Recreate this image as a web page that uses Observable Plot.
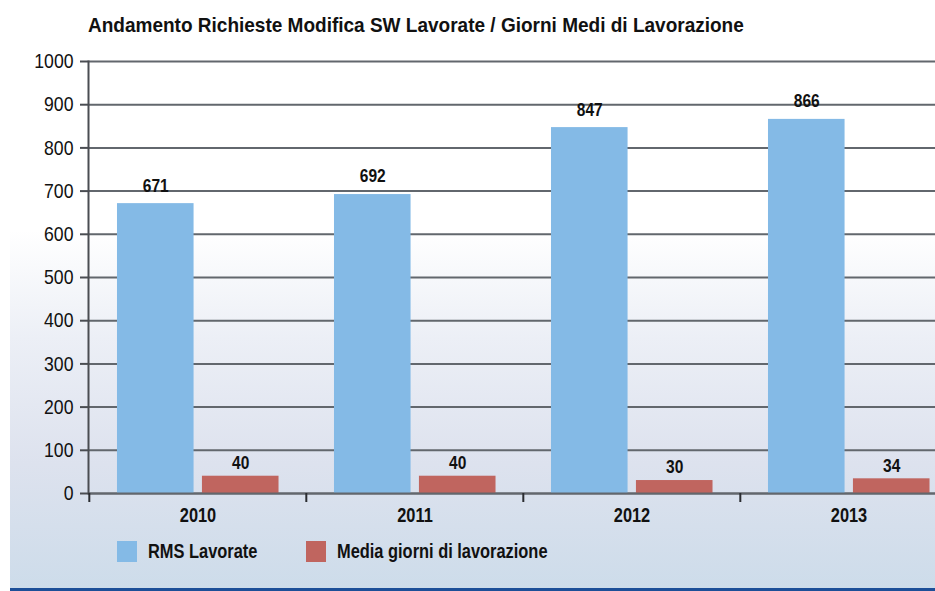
<!DOCTYPE html>
<html>
<head>
<meta charset="utf-8">
<script src="https://cdn.jsdelivr.net/npm/d3@7"></script>
<script src="https://cdn.jsdelivr.net/npm/@observablehq/plot@0.6"></script>
<style>
  html, body { margin: 0; padding: 0; background: #fff; overflow: hidden; }
  #wrap { position: relative; width: 935px; height: 591px; overflow: hidden;
    font-family: "Liberation Sans", Arial, sans-serif; }
  #bg { position: absolute; left: 10px; top: 230px; width: 925px; height: 359px;
    background: linear-gradient(to bottom, #ffffff 0%, #eceff6 30%, #dde2ee 65%, #cddcea 100%); }
  #bottomline { position: absolute; left: 10px; top: 588px; width: 925px; height: 3px; background: #1d4f98; }
  #title { position: absolute; left: 88px; top: 13px; font-weight: bold; font-size: 21px; color: #111; white-space: nowrap;
    transform: scaleX(0.905); transform-origin: left center; }
  #chart { position: absolute; left: 0; top: 0; }
  #chart svg { overflow: hidden; }
  .legend { position: absolute; top: 541px; height: 21px; display: flex; align-items: center; font-weight: bold; font-size: 20px; color: #111; white-space: nowrap; }
  .legend .sw { width: 20px; height: 21px; margin-right: 11px; flex: none; }
  .legend span { display: inline-block; transform: scaleX(0.82); transform-origin: left center; }
</style>
</head>
<body>
<div id="wrap">
  <div id="bg"></div>
  <div id="bottomline"></div>
  <div id="title"></div>
  <div id="chart"></div>
  <div id="legend"></div>
</div>
<script>
const titleText = "Andamento Richieste Modifica SW Lavorate / Giorni Medi di Lavorazione";
const years = ["2010", "2011", "2012", "2013"];
const seriesNames = ["RMS Lavorate", "Media giorni di lavorazione"];
const rmsLavorate = [671, 692, 847, 866];
const mediaGiorni = [40, 40, 30, 34];
const yTicks = [0, 100, 200, 300, 400, 500, 600, 700, 800, 900, 1000];
const seriesColors = ["#84bae6", "#c0655f"];

document.getElementById("title").textContent = titleText;

const W = 935, H = 591;
const mL = 88, mR = -22.5, mT = 61, mB = 98;
const bw = (W - mL - mR) / years.length;
// bar layout inside each year band (fractions of band width)
const outer = 28 / 217.5, barW = 77 / 217.5, gap = 8 / 217.5;
const blueIL = bw * outer, blueIR = bw * (1 - outer - barW);
const redIL = bw * (outer + barW + gap), redIR = bw * (1 - outer - 2 * barW - gap);
const blueDx = (blueIL + (bw - blueIR)) / 2 - bw / 2;
const redDx = (redIL + (bw - redIR)) / 2 - bw / 2;

const rms = years.map((y, i) => ({year: y, value: rmsLavorate[i]}));
const med = years.map((y, i) => ({year: y, value: mediaGiorni[i]}));
const font = '"Liberation Sans", Arial, sans-serif';

const plot = Plot.plot({
  width: W, height: H,
  marginLeft: mL, marginRight: mR, marginTop: mT, marginBottom: mB,
  style: {background: "transparent", fontFamily: font, color: "#111"},
  x: {type: "band", domain: years, padding: 0, label: null},
  y: {domain: [0, 1000], label: null},
  marks: [
    Plot.gridY(yTicks, {stroke: "#62676d", strokeOpacity: 1, strokeWidth: 2}),
    Plot.barY(rms, {x: "year", y: "value", fill: seriesColors[0], insetLeft: blueIL, insetRight: blueIR}),
    Plot.barY(med, {x: "year", y: "value", fill: seriesColors[1], insetLeft: redIL, insetRight: redIR}),
    Plot.ruleY([0], {stroke: "#62676d", strokeWidth: 2}),
    Plot.frame({anchor: "left", stroke: "#4a4d52", strokeWidth: 2}),
    Plot.text(rms, {x: "year", y: "value", text: d => String(d.value), dx: blueDx, dy: -18, fontSize: 18.5, fontWeight: "bold", fill: "#111", className: "cond"}),
    Plot.text(med, {x: "year", y: "value", text: d => String(d.value), dx: redDx, dy: -13, fontSize: 18.5, fontWeight: "bold", fill: "#111", className: "cond"}),
    Plot.axisY(yTicks, {tickSize: 8, tickPadding: 7, fontSize: 21, tickFormat: d => String(d), stroke: "#4a4d52", strokeWidth: 2, fill: "#111", className: "cond"}),
    Plot.axisX({tickSize: 0, tickPadding: 15, fontSize: 19.5, fontWeight: "bold", fill: "#111", className: "cond"}),
    Plot.axisX({tickSize: 9, tickFormat: () => "", dx: -bw / 2, stroke: "#2a2c30", strokeWidth: 2})
  ]
});
document.getElementById("chart").appendChild(plot);

// condensed (narrow) look for the chart text, keeping each text's own anchor
plot.querySelectorAll(".cond text").forEach(t => {
  const L = t.getComputedTextLength();
  if (L > 0) {
    t.setAttribute("textLength", (L * 0.84).toFixed(2));
    t.setAttribute("lengthAdjust", "spacingAndGlyphs");
  }
});

const legend = document.getElementById("legend");
const legendX = [117, 306];
seriesNames.forEach((name, i) => {
  const item = document.createElement("div");
  item.className = "legend";
  item.style.left = legendX[i] + "px";
  const sw = document.createElement("div");
  sw.className = "sw";
  sw.style.background = seriesColors[i];
  const t = document.createElement("span");
  t.textContent = name;
  item.appendChild(sw); item.appendChild(t);
  legend.appendChild(item);
});
</script>
</body>
</html>
